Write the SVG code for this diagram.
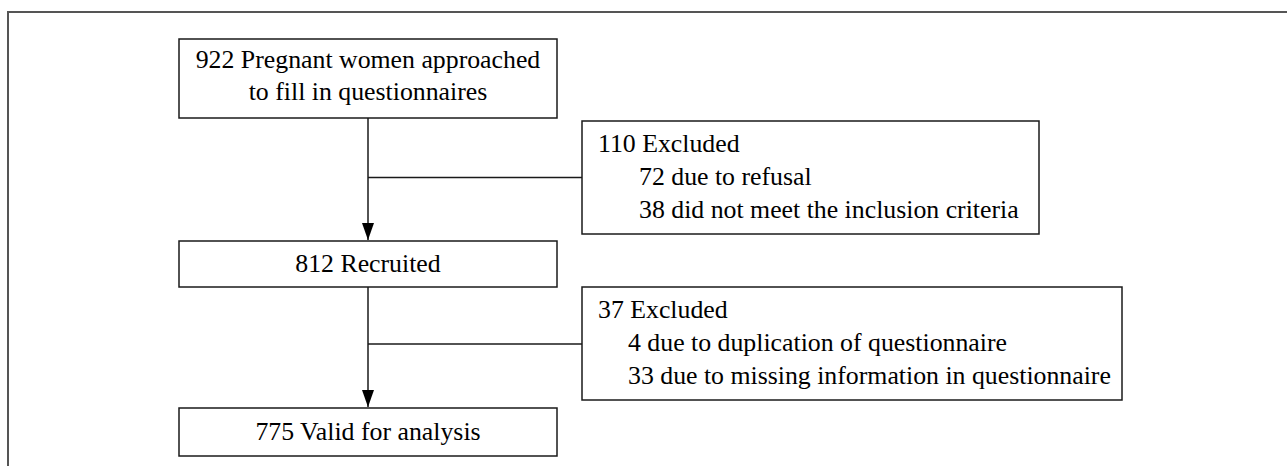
<svg xmlns="http://www.w3.org/2000/svg" width="1287" height="466" viewBox="0 0 1287 466">
<style>
.box{fill:#fff;stroke:#1a1a1a;stroke-width:1.5}
.frame{fill:none;stroke:#555;stroke-width:2}
.t{font-family:'Liberation Serif','Times New Roman',serif;font-size:25.8px;fill:#000}
.c{text-anchor:middle}
.ln{fill:none;stroke:#1a1a1a;stroke-width:1.5}
</style>
<defs>
<marker id="arr" markerUnits="userSpaceOnUse" markerWidth="18" markerHeight="13" refX="17" refY="6.5" orient="auto" viewBox="0 0 18 13">
<path d="M0,0.5 L17,6.5 L0,12.5 Z" fill="#000"/>
</marker>
</defs>
<rect width="1287" height="466" fill="#fff"/>
<path class="frame" d="M8,466 L8,12 L1287,12"/>
<g id="connectors">
<line class="ln" x1="368" y1="118" x2="368" y2="240" marker-end="url(#arr)"/>
<line class="ln" x1="368" y1="177.5" x2="582" y2="177.5"/>
<line class="ln" x1="368" y1="287" x2="368" y2="407" marker-end="url(#arr)"/>
<line class="ln" x1="368" y1="344" x2="582" y2="344"/>
</g>
<g id="n1">
<rect class="box" x="179" y="39" width="378" height="79"/>
<text class="t c" x="368" y="68">922 Pregnant women approached</text>
<text class="t c" x="368" y="100">to fill in questionnaires</text>
</g>
<g id="n2">
<rect class="box" x="582" y="121" width="457" height="113"/>
<text class="t" x="598" y="152">110 Excluded</text>
<text class="t" x="639" y="185">72 due to refusal</text>
<text class="t" x="639" y="218">38 did not meet the inclusion criteria</text>
</g>
<g id="n3">
<rect class="box" x="179" y="241" width="378" height="46"/>
<text class="t c" x="368" y="272">812 Recruited</text>
</g>
<g id="n4">
<rect class="box" x="582" y="287" width="540" height="113"/>
<text class="t" x="598" y="318">37 Excluded</text>
<text class="t" x="628" y="351">4 due to duplication of questionnaire</text>
<text class="t" x="628" y="384">33 due to missing information in questionnaire</text>
</g>
<g id="n5">
<rect class="box" x="179" y="408" width="378" height="48"/>
<text class="t c" x="368" y="440">775 Valid for analysis</text>
</g>
</svg>
